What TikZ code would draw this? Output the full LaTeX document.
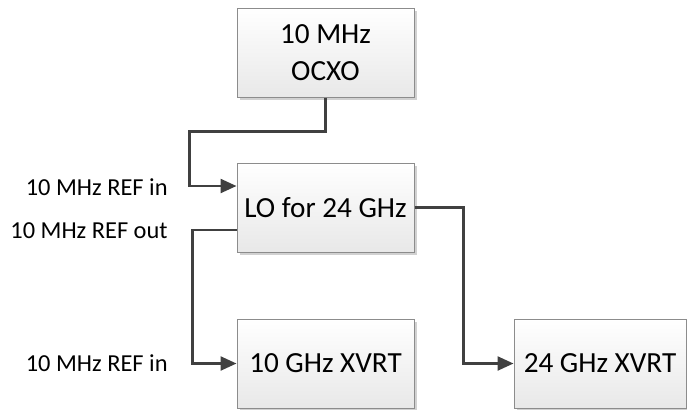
\documentclass[tikz,border=0pt]{standalone}
\usepackage{fontspec}
\setmainfont{Carlito}
\usepackage{tikz}
\usetikzlibrary{arrows.meta,positioning,shadows}

\definecolor{linegray}{HTML}{404040}

\begin{document}
\begin{tikzpicture}[
    x=0.5pt, y=-0.5pt,
    block/.style={rectangle, draw=black!45, line width=0.5pt,
        top color=white, bottom color=black!9,
        drop shadow={shadow xshift=1.5pt, shadow yshift=-1.5pt, fill=black!18, opacity=1},
        minimum width=88.5pt, minimum height=44.5pt, inner sep=0pt,
        align=center, font=\fontsize{14.6}{18.5}\selectfont},
    lbl/.style={anchor=east, inner sep=0pt, font=\fontsize{12.2}{14}\selectfont},
    arrow/.style={-{Triangle[length=8pt, width=7pt, fill=linegray]}, draw=linegray, line width=1.2pt}
]
    \useasboundingbox (0,0) rectangle (687,409);

    % Blocks
    \node[block] (ocxo) at (325.5,52.5) {10 MHz\\OCXO};
    \node[block] (lo) at (325.5,207.5) {LO for 24 GHz};
    \node[block] (xvrt10) at (325.5,363.5) {10 GHz XVRT};
    \node[block, minimum width=86pt] (xvrt24) at (600,363.5) {24 GHz XVRT};

    % Port labels
    \node[lbl] (refin) at (168,187) {10 MHz REF in};
    \node[lbl] (refout) at (168,231) {10 MHz REF out};
    \node[lbl] (refin10) at (168,363.5) {10 MHz REF in};

    % Connections
    \draw[arrow] (ocxo.south) -- ++(0,34) -| ([xshift=-23.5pt, yshift=10.75pt]lo.west) -- ([yshift=10.75pt]lo.west);
    \draw[arrow] ([yshift=-11.25pt]lo.west) -- ++(-44,0) |- (xvrt10.west);
    \draw[arrow] (lo.east) -- ++(49,0) |- (xvrt24.west);

\end{tikzpicture}
\end{document}
